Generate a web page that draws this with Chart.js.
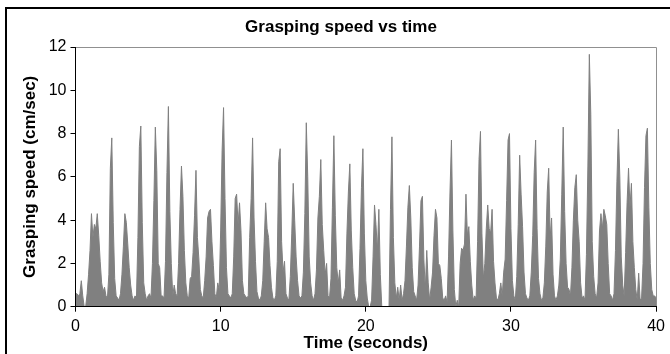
<!DOCTYPE html>
<html>
<head>
<meta charset="utf-8">
<script src="https://cdn.jsdelivr.net/npm/chart.js@4.4.1/dist/chart.umd.min.js"></script>
<style>
  html, body { margin: 0; padding: 0; background: #fff; }
  #wrap { width: 670px; height: 354px; }
</style>
</head>
<body>
<div id="wrap"><canvas id="speedChart" width="670" height="354"></canvas></div>
<script>
// Grasping speed, one reading every 0.1 s from 0 to 40 s (cm/sec)
const sampleStep = 0.1;
const speed = [
  0.6, 0.6, 0.5, 0.6, 1.2, 0.5, 0.0, 0.0, 0.6, 1.5,
  2.6, 4.3, 3.2, 3.8, 3.6, 4.3, 3.3, 2.1, 1.1, 0.7,
  0.9, 0.5, 0.4, 1.5, 6.4, 7.8, 3.9, 1.3, 0.5, 0.4,
  0.3, 0.6, 1.5, 2.8, 4.3, 3.9, 2.9, 1.8, 1.0, 0.5,
  0.3, 0.5, 0.4, 3.2, 7.4, 8.35, 3.9, 1.1, 0.6, 0.3,
  0.5, 0.6, 0.4, 2.0, 4.9, 8.3, 6.3, 2.0, 1.8, 0.5,
  0.5, 0.4, 2.1, 6.2, 9.25, 4.4, 2.0, 0.5, 1.0, 0.6,
  0.5, 2.0, 4.5, 6.5, 5.1, 2.6, 1.1, 0.5, 0.4, 1.3,
  1.4, 2.5, 4.2, 6.3, 3.2, 2.2, 0.8, 0.5, 0.4, 1.2,
  2.3, 4.1, 4.4, 4.5, 3.0, 1.9, 0.6, 0.4, 1.1, 0.8,
  3.5, 7.2, 9.2, 5.0, 1.8, 0.6, 0.5, 0.4, 0.6, 2.3,
  5.0, 5.2, 3.8, 4.8, 3.5, 1.2, 0.6, 0.5, 0.4, 0.5,
  3.2, 5.0, 7.8, 4.1, 2.1, 0.7, 0.4, 0.3, 0.5, 1.2,
  3.0, 4.8, 3.6, 3.2, 1.9, 0.9, 0.4, 0.3, 0.5, 2.1,
  6.7, 7.3, 3.0, 1.6, 2.1, 0.6, 0.4, 0.3, 1.4, 3.4,
  5.7, 4.0, 2.3, 1.2, 0.5, 0.4, 0.5, 1.6, 4.3, 8.5,
  6.0, 2.3, 1.1, 0.5, 0.3, 0.6, 1.7, 4.1, 5.1, 6.8,
  3.8, 2.6, 1.5, 2.0, 0.5, 0.4, 1.3, 4.6, 7.9, 4.2,
  1.8, 1.1, 1.7, 0.4, 0.3, 0.5, 0.9, 3.4, 5.3, 6.6,
  3.5, 1.8, 0.6, 0.3, 0.2, 0.5, 2.7, 5.5, 7.3, 3.4,
  1.2, 0.4, 0.0, 0.0, 0.3, 2.3, 4.7, 3.8, 2.6, 4.5,
  1.5, 0.0, 0.0, 0.0, 0.0, 0.0, 0.0, 4.5, 7.85, 3.2,
  1.1, 0.4, 0.9, 0.3, 1.0, 0.3, 0.6, 1.2, 2.8, 4.6,
  5.6, 4.1, 1.8, 0.7, 0.5, 0.3, 1.0, 2.8, 4.9, 5.1,
  2.2, 0.8, 2.6, 1.1, 0.3, 0.9, 1.6, 3.3, 4.5, 4.1,
  2.0, 1.9, 1.3, 0.4, 0.3, 0.5, 0.2, 2.3, 5.3, 7.7,
  3.5, 0.8, 0.0, 0.3, 0.0, 2.0, 2.7, 2.6, 2.9, 5.2,
  3.3, 3.7, 2.1, 1.0, 0.3, 0.5, 0.4, 3.0, 6.8, 8.1,
  3.4, 1.3, 2.0, 3.6, 4.7, 3.6, 3.4, 4.5, 2.1, 1.1,
  0.4, 0.3, 0.6, 1.1, 0.5, 1.6, 2.2, 4.9, 7.7, 8.0,
  3.6, 1.2, 0.5, 0.3, 1.4, 3.8, 7.0, 5.2, 3.7, 1.6,
  0.6, 0.4, 0.3, 0.5, 1.6, 3.3, 6.2, 7.7, 3.6, 1.3,
  0.6, 0.3, 0.4, 1.1, 2.8, 5.3, 6.4, 3.2, 4.1, 1.5,
  0.5, 0.3, 0.5, 1.0, 2.2, 5.2, 8.3, 4.4, 2.0, 0.9,
  0.8, 0.5, 1.8, 4.0, 5.5, 6.1, 4.0, 3.0, 1.1, 0.4,
  0.5, 0.3, 2.4, 6.5, 11.66, 8.9, 3.0, 1.4, 0.6, 0.4,
  1.1, 3.5, 4.3, 3.6, 4.5, 4.2, 3.8, 2.0, 0.6, 0.5,
  0.3, 0.6, 2.6, 5.8, 8.2, 6.0, 2.3, 1.0, 0.5, 2.5,
  4.8, 6.4, 4.6, 5.7, 3.0, 1.8, 0.8, 0.3, 1.55, 0.3,
  0.4, 2.0, 5.5, 7.9, 8.25, 4.6, 2.0, 0.8, 0.5, 0.5,
  0.4
];

const xTicks = [0, 10, 20, 30, 40];
const yTicks = [0, 2, 4, 6, 8, 10, 12];

const points = speed.map((v, i) => ({ x: +(i * sampleStep).toFixed(1), y: v }));

// plot area frame (grey top/right) and the outer chart border
const frames = {
  id: 'frames',
  afterDatasetsDraw(chart) {
    const { ctx, chartArea: a } = chart;
    ctx.save();
    ctx.strokeStyle = '#909090';
    ctx.lineWidth = 1;
    ctx.beginPath();
    ctx.moveTo(a.left, Math.round(a.top) + 0.5);
    ctx.lineTo(Math.round(a.right) + 0.5, Math.round(a.top) + 0.5);
    ctx.lineTo(Math.round(a.right) + 0.5, a.bottom);
    ctx.stroke();
    ctx.strokeStyle = '#000';
    ctx.lineWidth = 2;
    ctx.beginPath();
    ctx.moveTo(6, 354);
    ctx.lineTo(6, 8);
    ctx.lineTo(670, 8);
    ctx.stroke();
    ctx.restore();
  }
};

const font = 'Liberation Sans, Arial, sans-serif';

new Chart(document.getElementById('speedChart'), {
  type: 'line',
  data: {
    datasets: [{
      data: points,
      borderColor: '#808080',
      backgroundColor: '#808080',
      borderWidth: 1,
      pointRadius: 0,
      fill: 'origin',
      tension: 0
    }]
  },
  options: {
    responsive: false,
    animation: false,
    layout: { padding: { left: 20, right: 8, top: 0, bottom: 0 } },
    plugins: {
      legend: { display: false },
      tooltip: { enabled: false },
      title: {
        display: true,
        text: 'Grasping speed vs time',
        color: '#000',
        font: { family: font, size: 17, weight: 'bold' },
        padding: { top: 16.8, bottom: 9.8 }
      }
    },
    scales: {
      x: {
        type: 'linear',
        min: 0,
        max: 40,
        afterBuildTicks: s => { s.ticks = xTicks.map(v => ({ value: v })); },
        afterFit: s => { s.height = 47.3; },
        grid: { drawOnChartArea: false, drawTicks: true, tickLength: 5, color: '#000' },
        border: { display: true, color: '#000', z: 1 },
        ticks: { color: '#000', padding: 5, maxRotation: 0, font: { family: font, size: 16 } },
        title: {
          display: true,
          text: 'Time (seconds)',
          color: '#000',
          font: { family: font, size: 17, weight: 'bold' },
          padding: { top: 0, bottom: 0 }
        }
      },
      y: {
        min: 0,
        max: 12,
        afterBuildTicks: s => { s.ticks = yTicks.map(v => ({ value: v })); },
        afterFit: s => { s.width = 55.5; },
        grid: { drawOnChartArea: false, drawTicks: true, tickLength: 5, color: '#000' },
        border: { display: true, color: '#000', z: 1 },
        ticks: { color: '#000', padding: 4, font: { family: font, size: 16 } },
        title: {
          display: true,
          text: 'Grasping speed (cm/sec)',
          color: '#000',
          font: { family: font, size: 17, weight: 'bold' },
          padding: { top: 0, bottom: 0 }
        }
      }
    }
  },
  plugins: [frames]
});
</script>
</body>
</html>
